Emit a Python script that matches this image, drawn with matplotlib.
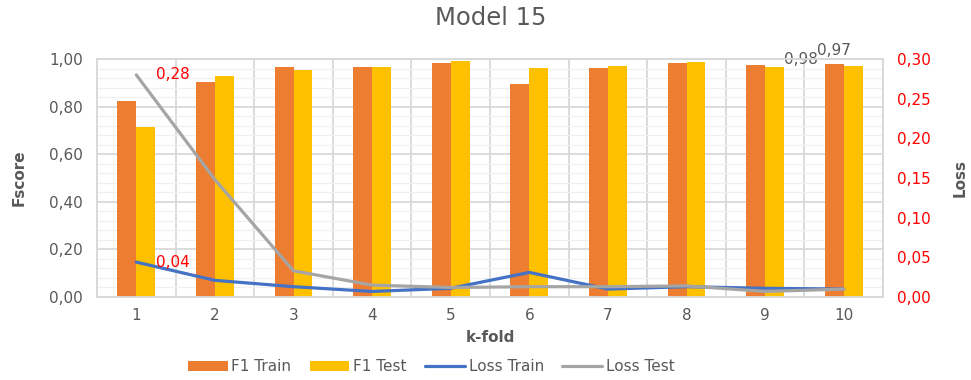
import matplotlib
matplotlib.use("Agg")
import matplotlib.pyplot as plt
from matplotlib.ticker import FuncFormatter, MultipleLocator
import numpy as np

plt.rcParams['font.family'] = ['DejaVu Sans']

folds = [1, 2, 3, 4, 5, 6, 7, 8, 9, 10]
f1_train = [0.823, 0.902, 0.966, 0.966, 0.983, 0.894, 0.962, 0.984, 0.975, 0.98]
f1_test = [0.713, 0.929, 0.954, 0.966, 0.990, 0.962, 0.971, 0.987, 0.966, 0.97]
loss_train = [0.044, 0.021, 0.013, 0.007, 0.011, 0.031, 0.010, 0.013, 0.011, 0.010]
loss_test = [0.28, 0.148, 0.033, 0.015, 0.012, 0.013, 0.013, 0.014, 0.007, 0.010]

C_TRAIN = '#ED7D31'
C_TEST = '#FFC000'
C_LTRAIN = '#4472C4'
C_LTEST = '#A5A5A5'
TXT = '#595959'
GRID = '#D9D9D9'
RED = '#FF0000'


def comma(v, _=None):
    return f"{v:.2f}".replace('.', ',')


fig = plt.figure(figsize=(9.71, 3.80), dpi=100)
ax = fig.add_axes([0.0999, 0.2184, 0.8095, 0.6263])
ax2 = ax.twinx()

x = np.arange(len(folds))
w = 0.24
ax.bar(x - w / 2, f1_train, w, color=C_TRAIN, label='F1 Train', zorder=3)
ax.bar(x + w / 2, f1_test, w, color=C_TEST, label='F1 Test', zorder=3)

ax2.plot(x, loss_train, color=C_LTRAIN, lw=2.3, label='Loss Train',
         solid_capstyle='round', solid_joinstyle='round')
ax2.plot(x, loss_test, color=C_LTEST, lw=2.3, label='Loss Test',
         solid_capstyle='round', solid_joinstyle='round')

ax.set_xlim(-0.5, len(folds) - 0.5)
ax.set_ylim(0, 1.0)
ax2.set_ylim(0, 0.30)

ax.yaxis.set_major_locator(MultipleLocator(0.2))
ax.yaxis.set_minor_locator(MultipleLocator(0.04))
ax.yaxis.set_major_formatter(FuncFormatter(comma))
ax2.yaxis.set_major_locator(MultipleLocator(0.05))
ax2.yaxis.set_major_formatter(FuncFormatter(comma))

ax.set_xticks(x)
ax.set_xticklabels([str(f) for f in folds])
ax.set_xticks(np.arange(-0.5, len(folds), 1.0), minor=True)

ax.grid(which='major', axis='y', color=GRID, lw=1.3, zorder=0)
ax.grid(which='minor', axis='y', color='#F0F0F0', lw=0.9, zorder=0)
ax.grid(which='minor', axis='x', color=GRID, lw=1.3, zorder=0)
ax.set_axisbelow(True)

for a in (ax, ax2):
    for s in a.spines.values():
        s.set_color(GRID)
        s.set_linewidth(1.3)
    a.tick_params(which='both', length=0)

ax.tick_params(axis='y', labelsize=11, labelcolor=TXT, pad=10)
ax.tick_params(axis='x', labelsize=11, labelcolor=TXT, pad=8)
ax2.tick_params(axis='y', labelsize=11, labelcolor=RED, pad=10)

ax.set_xlabel('k-fold', fontsize=11, fontweight='bold', color=TXT, labelpad=5)
ax.set_ylabel('Fscore', fontsize=11, fontweight='bold', color=TXT, labelpad=16)
ax2.set_ylabel('Loss', fontsize=11, fontweight='bold', color=TXT,
               rotation=90, labelpad=16)

fig.text(0.505, 0.952, 'Model 15', ha='center', va='center',
         fontsize=17.5, color=TXT)

# data labels
ax2.annotate(comma(loss_test[0]), (x[0], loss_test[0]), xytext=(14, 0),
             textcoords='offset points', color=RED, fontsize=11,
             ha='left', va='center')
ax2.annotate(comma(loss_train[0]), (x[0], loss_train[0]), xytext=(14, 0),
             textcoords='offset points', color=RED, fontsize=11,
             ha='left', va='center')
ax.annotate(comma(f1_train[-1]), (x[-1] - w / 2, f1_train[-1]), xytext=(-12, -2),
            textcoords='offset points', color=TXT, fontsize=11,
            ha='right', va='bottom', annotation_clip=False)
ax.annotate(comma(f1_test[-1]), (x[-1] + w / 2, f1_test[-1]), xytext=(-14, 6),
            textcoords='offset points', color=TXT, fontsize=11,
            ha='center', va='bottom', annotation_clip=False)

h1, l1 = ax.get_legend_handles_labels()
h2, l2 = ax2.get_legend_handles_labels()
fig.legend(h1 + h2, l1 + l2, loc='center', bbox_to_anchor=(0.444, 0.035),
           ncol=4, frameon=False, fontsize=11, labelcolor=TXT,
           handlelength=2.6, handleheight=0.6, columnspacing=1.2,
           handletextpad=0.25)

fig.savefig('out.png', dpi=100)
